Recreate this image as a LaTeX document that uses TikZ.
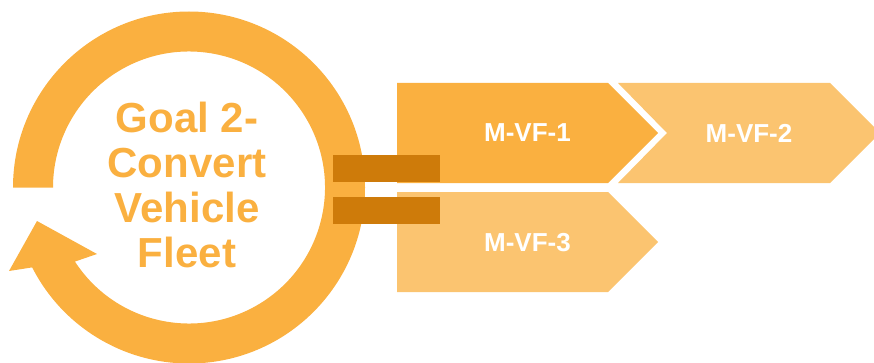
\documentclass[tikz,border=0pt]{standalone}
\usepackage{fontspec}
\setmainfont{Liberation Sans}
\usepackage{tikz}
\usetikzlibrary{positioning,calc}
\definecolor{ringorange}{RGB}{250,176,64}
\definecolor{lightorange}{RGB}{251,196,112}
\definecolor{barbrown}{RGB}{206,123,10}
\tikzset{
  chevtext/.style={
    text=white,
    font=\bfseries\fontsize{26}{30}\selectfont,
    inner sep=0pt
  },
  linkbar/.style={
    rectangle,
    fill=barbrown,
    minimum width=107,
    minimum height=27,
    inner sep=0pt
  }
}

\begin{document}
\begin{tikzpicture}[x=1pt,y=1pt]
  \useasboundingbox (0,0) rectangle (874,362);
  \coordinate (hub) at (189,174.5);
  % circular arrow
  \fill[ringorange] ($(hub)+(180:176)$) arc[start angle=180, end angle=-153, radius=176]
    -- (9,91) -- (37,141) -- (97,108)
    -- ($(hub)+(-147:136)$) arc[start angle=-147, end angle=180, radius=136] -- cycle;
  \node[align=center, text=ringorange, inner sep=0pt,
        font=\bfseries\fontsize{42}{44.7}\selectfont] (goal) at (187,177)
    {Goal 2-\\Convert\\Vehicle\\Fleet};
  % measures
  \fill[ringorange] (397,179) -- (608,179) -- (658,229) -- (608,279) -- (397,279) -- cycle;
  \fill[lightorange] (618,179) -- (667,229) -- (618,279) -- (830,279) -- (880,229) -- (830,179) -- cycle;
  \fill[lightorange] (397,70) -- (608,70) -- (658,120) -- (608,170) -- (397,170) -- cycle;
  \node[chevtext] (m1) at (527.5,229) {M-VF-1};
  \node[chevtext] (m2) at (749,229) {M-VF-2};
  \node[chevtext, below=110 of m1.center, anchor=center] (m3) {M-VF-3};
  \node[linkbar] (bar1) at (386.5,193.5) {};
  \node[linkbar] (bar2) at (386.5,151.75) {};
\end{tikzpicture}
\end{document}
